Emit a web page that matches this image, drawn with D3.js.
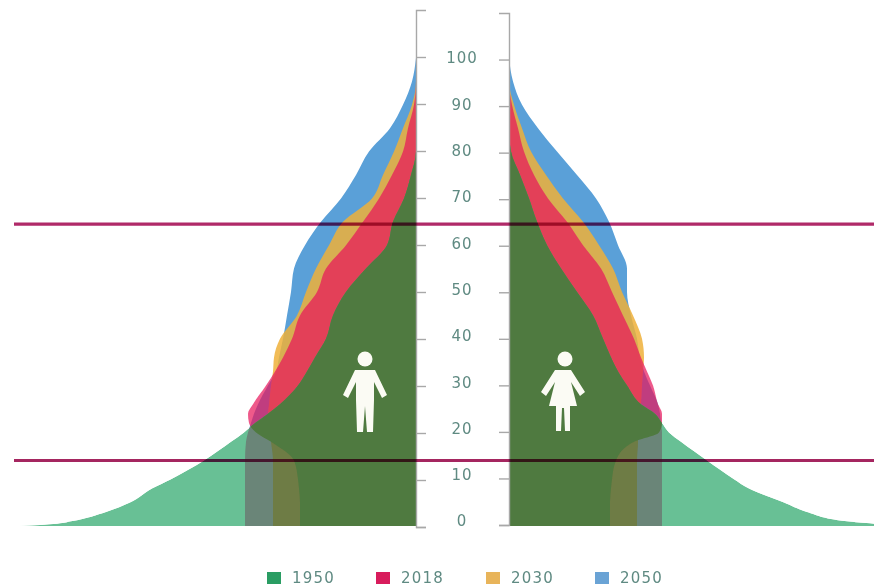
<!DOCTYPE html>
<html><head><meta charset="utf-8">
<script src="https://cdn.jsdelivr.net/npm/d3@7"></script>
<style>html,body{margin:0;padding:0;background:#fff}svg{display:block}</style></head>
<body><svg id="c" width="874" height="588"></svg>
<script>
const ages=[0,0.5,1,3,5,8,10,14,18,20,22,24,26,30,33,36,40,45,50,55,60,65,70,75,80,85,90,95,100];
const male1950=[398,359,345,310,286,264,245,212,185,172,161,148,136,118,109,101,90,83,70,50,29,23,12,5,0,0,0,0,0];
const male2018=[116,116,116,116,116,117,118,122,145,160,167,168,163,150,141,133,124,116,99,90,70,53,37,24,13,8,2,0,0];
const male2030=[143,143,143,143,143,143,143,143,145,146,147,148,147,145,143,142,136,119,110,100,87,73,44,33,22,13,4,0,0];
const male2050=[171,171,171,171,171,171,171,171,170,168,165,162,158,148,140,137,133,129,125,122,111,95,75,60,47,26,13,4,0];
const female1950=[398,365,338,298,275,240,225,198,172,160,153,146,132,118,109,102,94,84,68,52,38,28,20,11,2,0,0,0,0];
const female2018=[101,101,101,101,101,102,103,107,125,150,153,153,149,144,138,132,125,114,103,92,74,58,39,25,15,9,3,0,0];
const female2030=[128,128,128,128,128,128,128,128,129,129,130,131,132,133,134,135,133,124,113,104,90,74,54,37,22,13,5,0,0];
const female2050=[153,153,153,153,153,153,153,153,153,153,152,151,149,141,135,131,128,122,118,118,109,100,87,68,48,29,13,4,0];
const years=["1950","2018","2030","2050"];
const yearColors=["#2a9d63","#d81e5b","#e8b45a","#6aa3d5"];
const tickValues=[0,10,20,30,40,50,60,70,80,90,100];
const markerAges=[64.5,14];
const markerColors=["#b02a68","#a52560"];
const fillAlone={b:"#5aa0d8",g:"#eeb03a",r:"#e8175d"};
const fillOver={base:"#68c095",y2050:"#6b8578",y2030:"#6e7b45",y2018:"#4f7a3f"};

const svg=d3.select("#c");
const defs=svg.append("defs");
defs.append("filter").attr("id","soft").attr("x","-5%").attr("y","-5%").attr("width","110%").attr("height","110%")
  .append("feGaussianBlur").attr("stdDeviation",0.7);
const root=svg.append("g").attr("filter","url(#soft)");

const y=d3.scaleLinear().domain([0,100]).range([526,58]);
const xL=d3.scaleLinear().domain([0,400]).range([416,16]);
const xR=d3.scaleLinear().domain([0,400]).range([509,909]);
const area=(x,vals)=>d3.area().curve(d3.curveMonotoneY).y((d,i)=>y(ages[i])).x0(x(0)).x1((d)=>x(d))(vals);

function side(id,x,v1950,v2018,v2030,v2050){
  const g=root.append("g");
  g.append("path").attr("d",area(x,v2050)).attr("fill",fillAlone.b);
  g.append("path").attr("d",area(x,v2030)).attr("fill",fillAlone.g).attr("fill-opacity",.85);
  g.append("path").attr("d",area(x,v2018)).attr("fill",fillAlone.r).attr("fill-opacity",.72);
  defs.append("clipPath").attr("id",id).append("path").attr("d",area(x,v1950));
  const o=g.append("g").attr("clip-path",`url(#${id})`);
  o.append("path").attr("d",area(x,v1950)).attr("fill",fillOver.base);
  o.append("path").attr("d",area(x,v2050)).attr("fill",fillOver.y2050);
  o.append("path").attr("d",area(x,v2030)).attr("fill",fillOver.y2030);
  o.append("path").attr("d",area(x,v2018)).attr("fill",fillOver.y2018);
}
side("cl",xL,male1950,male2018,male2030,male2050);
side("cr",xR,female1950,female2018,female2030,female2050);

// axes
const yAL=d3.scaleLinear().domain([0,110]).range([527,10]);
const yAR=d3.scaleLinear().domain([0,110]).range([525,13]);
const aL=root.append("g").attr("transform","translate(416,0)").call(d3.axisRight(yAL).tickValues(tickValues).tickSize(10).tickFormat(""));
const aR=root.append("g").attr("transform","translate(509,0)").call(d3.axisLeft(yAR).tickValues(tickValues).tickSize(10).tickFormat(""));
[aL,aR].forEach(a=>{a.selectAll("path,line").attr("stroke","#a8a8a8").attr("stroke-width",1.4);a.selectAll("text").remove();});

const yLabel=d3.scaleLinear().domain([0,100]).range([521,58]);
root.append("g").selectAll("text").data(tickValues).join("text")
  .attr("x",462).attr("y",d=>yLabel(d)).attr("dy","0.36em").attr("text-anchor","middle")
  .attr("font-family","DejaVu Sans").attr("font-size",15).attr("letter-spacing",1).attr("fill","#5f8a82")
  .text(d=>d);

// figures
const man="M-10,0L10,0L22,25L17,28L9,12L9,30L8,62L2,62L0,36L-2,62L-8,62L-9,30L-9,12L-17,28L-22,25Z";
const woman="M-8,0L8,0L22,22L17,26L8,12L14,36L7,36L7,61L2,61L1,38L-1,38L-2,61L-7,61L-7,36L-14,36L-8,12L-17,26L-22,22Z";
const figs=[{x:365,p:man,hx:0},{x:563,p:woman,hx:2}];
const f=root.append("g").selectAll("g").data(figs).join("g").attr("transform",d=>`translate(${d.x},370)`).attr("fill","#fbfbf4");
f.append("path").attr("d",d=>d.p);
f.append("circle").attr("cx",d=>d.hx).attr("cy",-11).attr("r",7.5);

// marker lines
root.append("g").selectAll("line").data(markerAges).join("line")
  .attr("x1",xL(402)).attr("x2",874).attr("y1",d=>y(d)).attr("y2",d=>y(d))
  .attr("stroke",(d,i)=>markerColors[i]).attr("stroke-width",3.2).style("mix-blend-mode","multiply");

// legend
const legX=d3.scaleOrdinal().domain(years).range([267,376,486,595]);
const leg=root.append("g").selectAll("g").data(years).join("g").attr("transform",d=>`translate(${legX(d)},572)`);
leg.append("rect").attr("width",14).attr("height",12).attr("fill",(d,i)=>yearColors[i]);
leg.append("text").attr("x",25).attr("y",6).attr("dy","0.36em").attr("font-family","DejaVu Sans").attr("font-size",15)
  .attr("letter-spacing",1.2).attr("fill","#5f8a82").text(d=>d);
</script></body></html>
